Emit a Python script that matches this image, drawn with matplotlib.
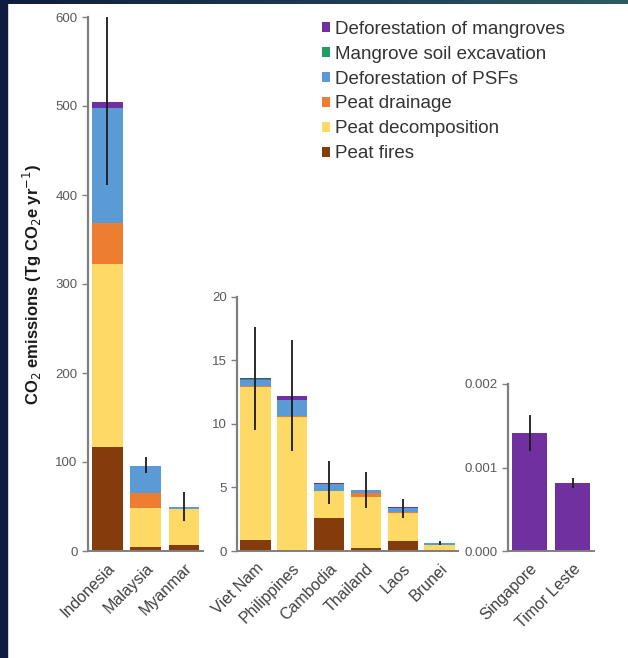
import numpy as np
import matplotlib
matplotlib.use('Agg')
import matplotlib.pyplot as plt
from matplotlib.patches import Rectangle, Patch
from matplotlib.colors import LinearSegmentedColormap

plt.rcParams['font.family'] = ['Liberation Sans', 'DejaVu Sans']

## Data (Tg CO2e per year)
# big emitters
countries1 = ['Indonesia', 'Malaysia', 'Myanmar']
fires1 = [117, 5, 6.5]
decomp1 = [205, 43.5, 41]
drainage1 = [46, 16.5, 0]
psf1 = [130, 31, 1.6]
excav1 = [0, 0, 0]
mangr1 = [6, 0, 0.5]
err_lo1 = [411, 88, 34]
err_hi1 = [600, 106, 66]

# medium emitters
countries2 = ['Viet Nam', 'Philippines', 'Cambodia', 'Thailand', 'Laos', 'Brunei']
fires2 = [0.9, 0.1, 2.6, 0.25, 0.8, 0.05]
decomp2 = [12.0, 10.4, 2.1, 4.0, 2.2, 0.45]
drainage2 = [0.05, 0.1, 0.05, 0.35, 0.05, 0]
psf2 = [0.5, 1.3, 0.5, 0.2, 0.35, 0.1]
excav2 = [0.05, 0, 0, 0, 0, 0.05]
mangr2 = [0.1, 0.3, 0.1, 0.0, 0.05, 0]
err_lo2 = [9.5, 7.9, 3.7, 3.4, 2.6, 0.5]
err_hi2 = [17.6, 16.6, 7.05, 6.2, 4.1, 0.75]

# tiny emitters
countries3 = ['Singapore', 'Timor Leste']
mangr3 = [0.00141, 0.00081]
err_lo3 = [0.00120, 0.00075]
err_hi3 = [0.00163, 0.00088]

labels = ['Deforestation of mangroves', 'Mangrove soil excavation', 'Deforestation of PSFs',
          'Peat drainage', 'Peat decomposition', 'Peat fires']
colors = ['#7030a0', '#1f9e63', '#5b9bd5', '#ed7d31', '#ffd966', '#843c0c']
# stacking order bottom -> top
stack_col = [colors[5], colors[4], colors[3], colors[2], colors[1], colors[0]]

W, H = 628, 658
fig = plt.figure(figsize=(W / 100, H / 100), dpi=100)
fig.patch.set_facecolor('white')


def ax_at(x0, y_top, x1, y_bot):
    return fig.add_axes([x0 / W, 1 - y_bot / H, (x1 - x0) / W, (y_bot - y_top) / H])


def style(ax):
    for s in ['top', 'right']:
        ax.spines[s].set_visible(False)
    ax.spines['left'].set_color('#7f7f7f')
    ax.spines['left'].set_linewidth(1.6)
    ax.spines['bottom'].set_color('#7f7f7f')
    ax.spines['bottom'].set_linewidth(1.4)
    ax.tick_params(axis='y', colors='#7f7f7f', labelcolor='#595959', labelsize=9.5,
                   length=4, width=1, direction='out')
    ax.tick_params(axis='x', length=0, labelcolor='#404040', labelsize=11.5, pad=7)
    ax.set_facecolor('none')


def stacked(ax, names, series, lo, hi, width=0.8):
    x = np.arange(len(names))
    bottom = np.zeros(len(names))
    for vals, c in zip(series, stack_col):
        ax.bar(x, vals, width, bottom=bottom, color=c, edgecolor='none', zorder=2)
        bottom += np.array(vals)
    ax.vlines(x, lo, hi, color='#1a1a1a', lw=1.3, zorder=3)
    ax.set_xticks(x)
    ax.set_xticklabels(names, rotation=45, ha='right', rotation_mode='anchor')
    ax.set_xlim(-0.5, len(names) - 0.5)


# panel 1
ax1 = ax_at(88, 17, 203, 551)
stacked(ax1, countries1, [fires1, decomp1, drainage1, psf1, excav1, mangr1], err_lo1, err_hi1)
ax1.set_ylim(0, 600)
ax1.set_yticks([0, 100, 200, 300, 400, 500, 600])
style(ax1)
ax1.set_ylabel('CO$_2$ emissions (Tg CO$_2$e yr$^{-1}$)', fontsize=12, fontweight='bold',
               color='#1a1a1a', labelpad=8)

# panel 2
ax2 = ax_at(237, 296.7, 458, 551)
stacked(ax2, countries2, [fires2, decomp2, drainage2, psf2, excav2, mangr2], err_lo2, err_hi2,
        width=0.82)
ax2.set_ylim(0, 20)
ax2.set_yticks([0, 5, 10, 15, 20])
style(ax2)

# panel 3
ax3 = ax_at(508, 384, 594, 551)
x3 = np.arange(len(countries3))
ax3.bar(x3, mangr3, 0.8, color=colors[0], edgecolor='none', zorder=2)
ax3.vlines(x3, err_lo3, err_hi3, color='#1a1a1a', lw=1.3, zorder=3)
ax3.set_xticks(x3)
ax3.set_xticklabels(countries3, rotation=45, ha='right', rotation_mode='anchor')
ax3.set_xlim(-0.5, 1.5)
ax3.set_ylim(0, 0.002)
ax3.set_yticks([0, 0.001, 0.002])
ax3.set_yticklabels(['0.000', '0.001', '0.002'])
style(ax3)

# legend
handles = [Patch(facecolor=c, edgecolor='none') for c in colors]
fig.legend(handles, labels, loc='upper left', bbox_to_anchor=(305 / W, 1 - 4 / H),
           frameon=False, fontsize=13.5, handlelength=0.45, handleheight=0.45,
           handletextpad=0.25, labelspacing=0.42, labelcolor='#333333')

# dark slide border (left and top)
fig.patches.append(Rectangle((0, 0), 7 / W, 1, transform=fig.transFigure,
                             color='#101c3e', zorder=10))
bar = fig.add_axes([0, 1 - 4 / H, 1, 4 / H])
grad = np.linspace(0, 1, 256)[None, :]
cmap = LinearSegmentedColormap.from_list('edge', ['#101c3e', '#1d3a52', '#2b5c62'])
bar.imshow(grad, aspect='auto', cmap=cmap)
bar.axis('off')

fig.savefig('out.png', dpi=100, facecolor='white')
